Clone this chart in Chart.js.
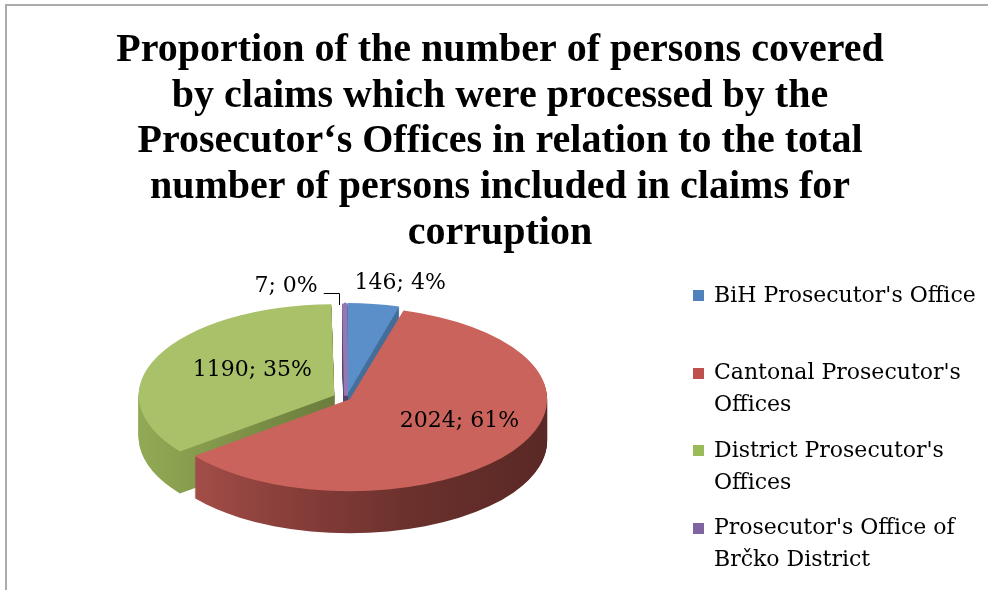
<!DOCTYPE html>
<html>
<head>
<meta charset="utf-8">
<script src="https://cdn.jsdelivr.net/npm/chart.js@4.4.1/dist/chart.umd.min.js"></script>
<style>
  html, body { margin: 0; padding: 0; background: #ffffff; }
  #wrap { width: 988px; height: 590px; position: relative; }
</style>
</head>
<body>
<div id="wrap"><canvas id="c" width="988" height="590"></canvas></div>
<script>
// ---------------- data ----------------
const titleLines = [
  "Proportion of the number of persons covered",
  "by claims which were processed by the",
  "Prosecutor\u2018s Offices in relation to the total",
  "number of persons included in claims for",
  "corruption"
];
const categories = [
  "BiH Prosecutor's Office",
  "Cantonal Prosecutor's Offices",
  "District Prosecutor's Offices",
  "Prosecutor's Office of Brčko District"
];
const legendLines = [
  ["BiH Prosecutor's Office"],
  ["Cantonal Prosecutor's", "Offices"],
  ["District Prosecutor's", "Offices"],
  ["Prosecutor's Office of", "Brčko District"]
];
const personCounts = [146, 2024, 1190, 7];
const percentLabels = ["4%", "61%", "35%", "0%"];

// ---------------- styles ----------------
const topColors = ["#5b8fc9", "#cb635d", "#a9c26a", "#9379b4"];
const legendColors = ["#4f81bd", "#c0504d", "#9bbb59", "#8064a2"];
const sideColors = [
  ["#4a78a8", "#3f6690"],
  ["#b0554f", "#8a3f3b", "#6a302c", "#592825"],
  ["#93ab55", "#6b7c3d", "#66763a"],
  ["#5a4878", "#4b3b63"]
];
const PIE = { cx: 346, cy: 398, rx: 193, ry: 90, depth: 42 };
const labelPlace = [
  { f: 1.0, dx: 28, dy: -26, align: 'center' },
  { f: 0.62, dx: 14, dy: -8, align: 'center' },
  { f: 0.55, dx: 2, dy: -6, align: 'center' },
  { f: 1.0, dx: -27, dy: -22, align: 'right', leader: true }
];
const SERIF = "'DejaVu Serif', serif";

function pieGeom(chart) {
  const meta = chart.getDatasetMeta(0);
  const arcs = meta.data;
  const el0 = arcs[0];
  const ax = el0.x, ay = el0.y, r = el0.outerRadius;
  return { arcs, ax, ay, r, sx: PIE.rx / r, sy: PIE.ry / r };
}

const pie3d = {
  id: 'pie3d',
  beforeDatasetDraw(chart, args) {
    const ctx = chart.ctx;
    const g = pieGeom(chart);
    const setT = (dy) => {
      ctx.translate(PIE.cx, PIE.cy + dy);
      ctx.scale(g.sx, g.sy);
      ctx.translate(-g.ax, -g.ay);
    };
    const fills = sideColors.map(c => {
      const grad = ctx.createLinearGradient(g.ax - g.r * 1.05, 0, g.ax + g.r * 1.05, 0);
      c.forEach((col, i) => grad.addColorStop(i / (c.length - 1), col));
      return grad;
    });
    const order = [0, 3, 2, 1];
    for (const i of order) {
      const el = g.arcs[i];
      const orig = el.options;
      el.options = Object.assign({}, orig, { backgroundColor: fills[i], borderColor: fills[i] });
      for (let d = PIE.depth; d >= 1; d--) {
        ctx.save();
        setT(d);
        el.draw(ctx);
        ctx.restore();
      }
      el.options = orig;
    }
    ctx.save();
    setT(0);
  },
  afterDatasetDraw(chart) {
    chart.ctx.restore();
  }
};

const sliceLabels = {
  id: 'sliceLabels',
  afterDatasetsDraw(chart) {
    const ctx = chart.ctx;
    const g = pieGeom(chart);
    const toS = (x, y) => [PIE.cx + (x - g.ax) * g.sx, PIE.cy + (y - g.ay) * g.sy];
    ctx.save();
    ctx.font = "22px " + SERIF;
    ctx.fillStyle = "#000";
    ctx.textBaseline = 'middle';
    g.arcs.forEach((el, i) => {
      const o = labelPlace[i];
      const mid = (el.startAngle + el.endAngle) / 2;
      const [x, y] = toS(g.ax + Math.cos(mid) * g.r * o.f, g.ay + Math.sin(mid) * g.r * o.f);
      const text = personCounts[i] + "; " + percentLabels[i];
      ctx.textAlign = o.align;
      const tx = x + o.dx, ty = y + o.dy;
      ctx.fillText(text, tx, ty);
      if (o.leader) {
        ctx.beginPath();
        ctx.strokeStyle = "#000";
        ctx.lineWidth = 1;
        ctx.moveTo(tx + 6, Math.round(ty + 7) + 0.5);
        ctx.lineTo(Math.round(x - 6) + 0.5, Math.round(ty + 7) + 0.5);
        ctx.lineTo(Math.round(x - 6) + 0.5, y - 3);
        ctx.stroke();
      }
    });
    ctx.restore();
  }
};

const sideLegend = {
  id: 'sideLegend',
  afterDraw(chart) {
    const ctx = chart.ctx;
    ctx.save();
    ctx.font = "22px " + SERIF;
    ctx.textBaseline = 'middle';
    ctx.textAlign = 'left';
    legendLines.forEach((lines, i) => {
      const y = 296 + i * 77.5;
      ctx.fillStyle = legendColors[i];
      ctx.fillRect(693, Math.round(y - 6), 11, 11);
      ctx.fillStyle = "#000";
      lines.forEach((ln, j) => ctx.fillText(ln, 714, y + j * 32));
    });
    // outer frame
    ctx.fillStyle = "#ababab";
    ctx.fillRect(5, 4, 990, 2);
    ctx.fillRect(5, 4, 2, 600);
    ctx.restore();
  }
};

new Chart(document.getElementById('c'), {
  type: 'pie',
  data: {
    labels: categories,
    datasets: [{
      data: personCounts,
      backgroundColor: topColors,
      borderColor: topColors,
      borderWidth: [0, 0, 0, 3],
      offset: [18, 13, 38, 14],
      clip: false
    }]
  },
  options: {
    responsive: false,
    animation: false,
    devicePixelRatio: 1,
    layout: { padding: { left: 12, right: 0, top: 0, bottom: 0 } },
    plugins: {
      legend: { display: false },
      tooltip: { enabled: false },
      title: {
        display: true,
        text: titleLines,
        color: "#000",
        font: { family: "'Liberation Serif', serif", size: 40, weight: 'bold', lineHeight: 1.14 },
        padding: { top: 28, bottom: 10 }
      }
    }
  },
  plugins: [pie3d, sliceLabels, sideLegend]
});
</script>
</body>
</html>
